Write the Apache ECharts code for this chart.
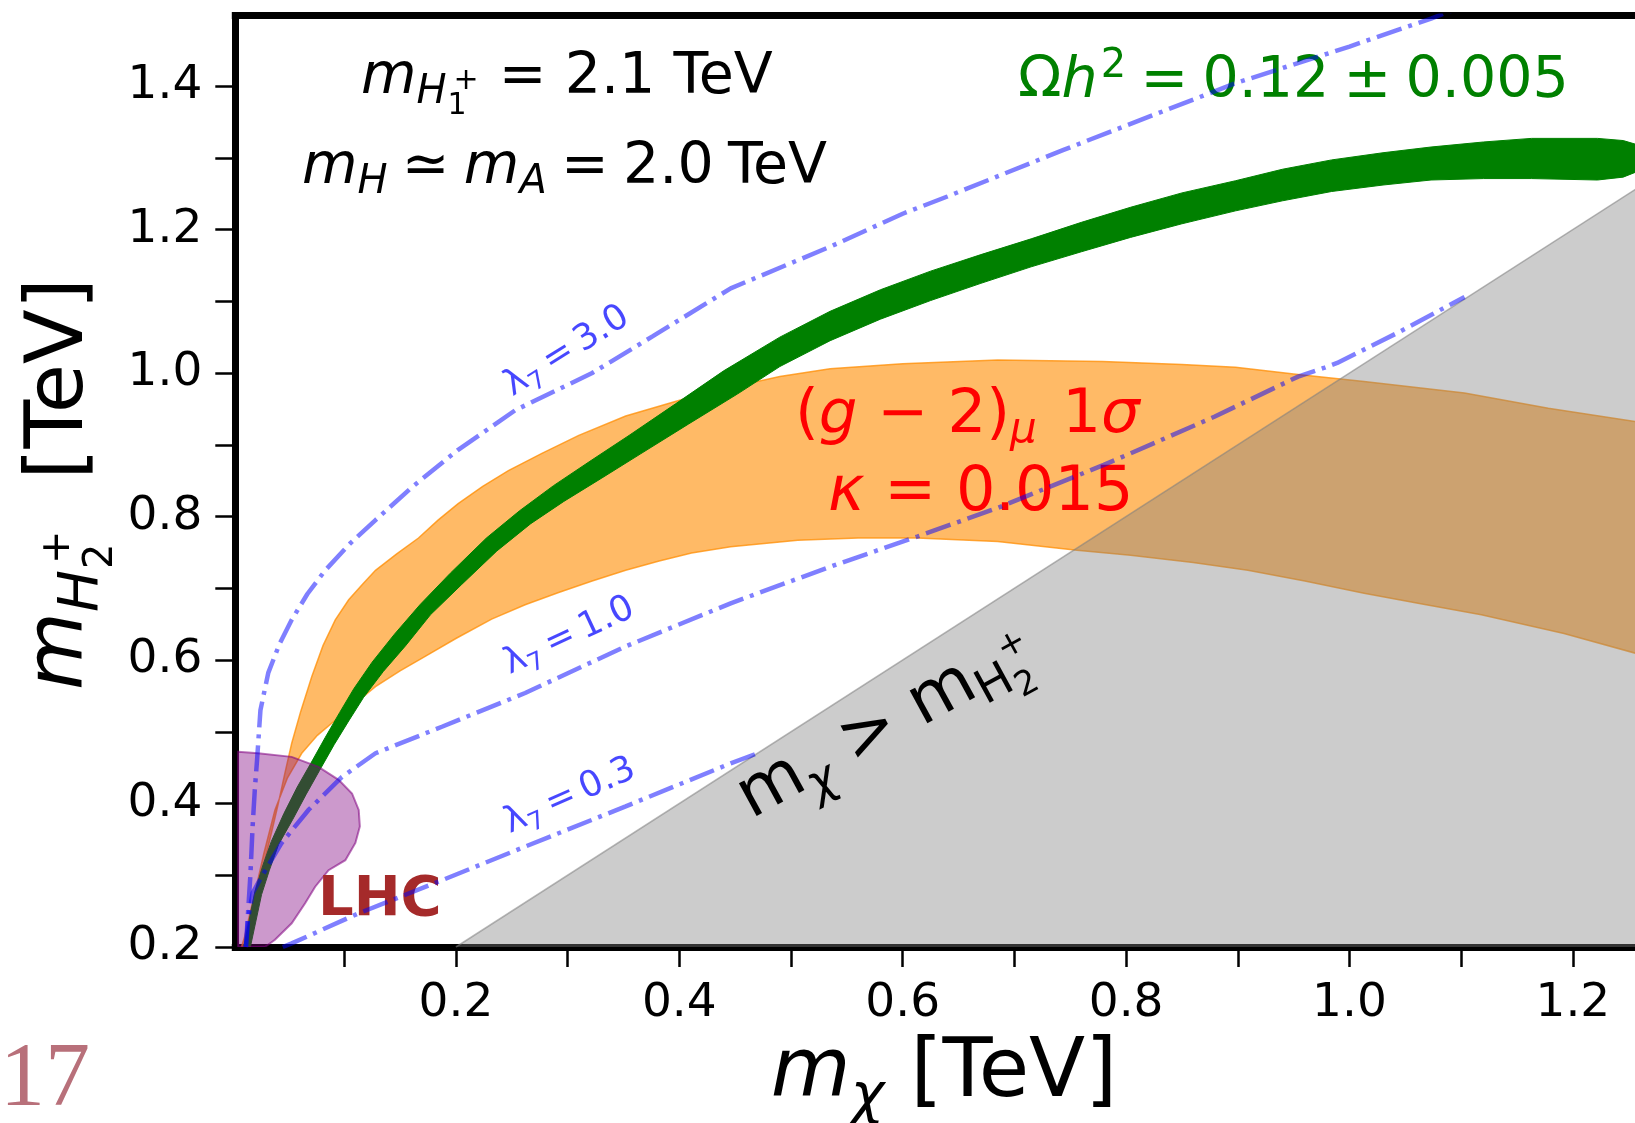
<!DOCTYPE html>
<html>
<head>
<meta charset="utf-8">
<script src="https://cdn.jsdelivr.net/npm/echarts@6/dist/echarts.min.js"></script>
<style>
  html, body { margin: 0; padding: 0; background: #ffffff; }
  #chart { width: 1635px; height: 1123px; }
</style>
</head>
<body>
<div id="chart"></div>
<script>
// ---------------- axis ticks ----------------
const xTicks = [0.1, 0.2, 0.3, 0.4, 0.5, 0.6, 0.7, 0.8, 0.9, 1.0, 1.1, 1.2];
const xTickLabels = [0.2, 0.4, 0.6, 0.8, 1.0, 1.2];
const yTicks = [0.2, 0.3, 0.4, 0.5, 0.6, 0.7, 0.8, 0.9, 1.0, 1.1, 1.2, 1.3, 1.4];
const yTickLabels = [0.2, 0.4, 0.6, 0.8, 1.0, 1.2, 1.4];

// ---------------- regions (m_chi, m_H2+) in TeV ----------------
// (g-2)_mu 1 sigma band, kappa = 0.015
const g2Upper = [[0.008,0.200],[0.011,0.215],[0.016,0.250],[0.022,0.285],[0.029,0.321],[0.035,0.360],[0.041,0.400],[0.047,0.443],[0.053,0.484],[0.061,0.528],[0.071,0.577],[0.081,0.620],[0.092,0.656],[0.104,0.684],[0.116,0.705],[0.128,0.725],[0.147,0.748],[0.1665,0.770],[0.184,0.795],[0.202,0.818],[0.224,0.842],[0.247,0.864],[0.277,0.888],[0.310,0.913],[0.352,0.940],[0.4025,0.963],[0.446,0.980],[0.490,0.995],[0.535,1.006],[0.600,1.013],[0.685,1.018],[0.779,1.016],[0.850,1.012],[0.898,1.008],[0.954,0.998],[1.013,0.988],[1.103,0.972],[1.178,0.951],[1.257,0.932],[1.300,0.921]];
const g2Lower = [[0.012,0.200],[0.016,0.240],[0.020,0.275],[0.028,0.330],[0.038,0.391],[0.049,0.435],[0.062,0.470],[0.076,0.495],[0.092,0.516],[0.110,0.540],[0.128,0.563],[0.150,0.585],[0.1725,0.605],[0.200,0.630],[0.232,0.657],[0.262,0.677],[0.292,0.694],[0.322,0.710],[0.352,0.725],[0.382,0.738],[0.411,0.749],[0.446,0.758],[0.506,0.767],[0.560,0.770],[0.613,0.770],[0.685,0.765],[0.756,0.753],[0.804,0.746],[0.860,0.736],[0.909,0.725],[0.960,0.710],[1.013,0.693],[1.065,0.678],[1.118,0.663],[1.192,0.637],[1.257,0.609],[1.300,0.592]];

// relic density band, Omega h^2 = 0.12 +- 0.005
const relicUpper = [[0.010,0.200],[0.020,0.277],[0.027,0.313],[0.0347,0.347],[0.046,0.386],[0.058,0.423],[0.0701,0.456],[0.083,0.492],[0.096,0.527],[0.1086,0.560],[0.125,0.597],[0.145,0.636],[0.1678,0.677],[0.195,0.721],[0.2273,0.770],[0.257,0.808],[0.2874,0.843],[0.320,0.877],[0.355,0.913],[0.3966,0.957],[0.4397,1.003],[0.490,1.050],[0.535,1.086],[0.580,1.116],[0.625,1.142],[0.670,1.165],[0.715,1.187],[0.760,1.210],[0.804,1.231],[0.850,1.251],[0.898,1.268],[0.940,1.284],[0.984,1.297],[1.030,1.307],[1.073,1.315],[1.120,1.322],[1.163,1.327],[1.222,1.327],[1.245,1.324],[1.258,1.318],[1.266,1.305]];
const relicLower = [[0.016,0.200],[0.026,0.273],[0.033,0.307],[0.0413,0.343],[0.054,0.378],[0.066,0.413],[0.0779,0.446],[0.091,0.482],[0.104,0.515],[0.1174,0.548],[0.135,0.584],[0.155,0.620],[0.1772,0.663],[0.205,0.705],[0.2367,0.752],[0.267,0.790],[0.2966,0.821],[0.330,0.853],[0.365,0.887],[0.4084,0.929],[0.4523,0.971],[0.490,1.009],[0.535,1.045],[0.580,1.075],[0.625,1.101],[0.670,1.125],[0.715,1.148],[0.760,1.169],[0.804,1.189],[0.850,1.208],[0.898,1.226],[0.940,1.240],[0.984,1.253],[1.030,1.262],[1.073,1.269],[1.120,1.271],[1.163,1.271],[1.222,1.269],[1.245,1.273],[1.258,1.281],[1.266,1.295]];

// LHC exclusion
const lhcRegion = [[0.005,0.472],[0.023,0.470],[0.053,0.465],[0.077,0.451],[0.095,0.433],[0.107,0.414],[0.113,0.391],[0.114,0.368],[0.110,0.345],[0.101,0.321],[0.086,0.307],[0.074,0.284],[0.065,0.261],[0.053,0.233],[0.038,0.210],[0.029,0.200],[0.005,0.200]];

// m_chi > m_H2+ (forbidden)
const forbidden = [[0.2,0.2],[1.3,1.3],[1.3,0.2]];
const diagonal = [[0.2,0.2],[1.3,1.3]];

// lambda_7 contours
const lambda30 = [[0.012,0.200],[0.014,0.250],[0.016,0.300],[0.018,0.368],[0.020,0.420],[0.022,0.461],[0.025,0.530],[0.032,0.582],[0.042,0.622],[0.053,0.656],[0.067,0.692],[0.083,0.725],[0.105,0.762],[0.128,0.795],[0.160,0.840],[0.202,0.893],[0.253,0.948],[0.322,1.000],[0.376,1.051],[0.446,1.118],[0.535,1.176],[0.600,1.222],[0.640,1.246],[0.744,1.311],[0.898,1.404],[1.000,1.455],[1.073,1.494],[1.100,1.510]];
const lambda10 = [[0.012,0.200],[0.014,0.240],[0.018,0.275],[0.026,0.298],[0.044,0.345],[0.068,0.391],[0.098,0.437],[0.128,0.470],[0.1875,0.507],[0.262,0.554],[0.352,0.619],[0.446,0.679],[0.535,0.730],[0.613,0.772],[0.685,0.812],[0.780,0.872],[0.804,0.888],[0.879,0.939],[0.954,0.995],[0.977,1.007],[0.989,1.014],[1.043,1.056],[1.103,1.106]];
const lambda03 = [[0.045,0.200],[0.053,0.205],[0.113,0.247],[0.1875,0.293],[0.262,0.340],[0.352,0.396],[0.446,0.456],[0.470,0.470]];

// ---------------- text helpers ----------------
const FAMILY = '"DejaVu Sans", sans-serif';
const SP = '\u2005'; // narrower space around relations
const measureCtx = document.createElement('canvas').getContext('2d');
function fontOf(p, family) {
  return (p.i ? 'italic ' : '') + (p.b ? 'bold ' : '') + p.s + 'px ' + (family || FAMILY);
}
function textWidth(p, family) {
  measureCtx.font = fontOf(p, family);
  return measureCtx.measureText(p.t).width;
}
// offset (in em) between the canvas "middle" line and the alphabetic baseline
let MID = 0.346;
(function () {
  measureCtx.font = '100px ' + FAMILY;
  measureCtx.textBaseline = 'alphabetic';
  const m = measureCtx.measureText('Hg');
  if (m.fontBoundingBoxAscent && m.fontBoundingBoxDescent) {
    MID = (m.fontBoundingBoxAscent - m.fontBoundingBoxDescent) / 200;
  }
})();

// Lays out pieces of a formula along one baseline (group origin = baseline).
// piece: t text, s size, i italic, dy baseline shift (down +), gap extra space,
// keep: the next piece is stacked at the same x (sub + superscript).
function formula(pieces, opt) {
  const base = opt.size;
  let x = 0, held = null;
  const kids = [];
  pieces.forEach(function (p) {
    const q = { t: p.t, s: p.s || base, i: p.i, b: opt.bold || p.b };
    const x0 = (held ? held.x : x) + (p.gap || 0);
    const w = textWidth(q, opt.family);
    kids.push({
      type: 'text', x: x0, y: (p.dy || 0) - MID * q.s, silent: true, z: 5,
      style: {
        text: p.t, font: fontOf(q, opt.family), fill: opt.color,
        align: 'left', verticalAlign: 'middle', textAlign: 'left', textVerticalAlign: 'middle'
      }
    });
    if (p.keep) { held = { x: x, end: x0 + w }; }
    else if (held) { x = Math.max(held.end, x0 + w); held = null; }
    else { x = x0 + w; }
  });
  const shift = opt.align === 'center' ? -x / 2 : (opt.align === 'right' ? -x : 0);
  kids.forEach(function (k) { k.x += shift; });
  return { type: 'group', x: opt.x, y: opt.y, rotation: (opt.rot || 0) * Math.PI / 180, children: kids, z: 5 };
}

// ---------------- series builders ----------------
function region(name, verts, style, z) {
  return {
    type: 'custom', name: name, z: z, silent: true, clip: true,
    data: verts, encode: { x: 0, y: 1 },
    renderItem: function (params, api) {
      if (params.dataIndex !== 0) return null;
      return { type: 'polygon', shape: { points: verts.map(function (v) { return api.coord(v); }) }, style: style };
    }
  };
}
function contour(name, pts) {
  return {
    type: 'line', name: name, data: pts, z: 6, silent: true, clip: true,
    showSymbol: false, symbol: 'none', smooth: false,
    lineStyle: { color: 'rgba(0,0,255,0.5)', width: 4.5, type: [26, 7, 4, 7], cap: 'butt' }
  };
}

const chart = echarts.init(document.getElementById('chart'), null, { renderer: 'canvas' });

const X0 = 0.0025, X1 = 1.2556, Y0 = 0.2, Y1 = 1.498;
const tickFmt = function (v) { return v.toFixed(1); };
const blue = 'rgba(0,0,255,0.72)';
const spine = { show: true, onZero: false, lineStyle: { color: '#000', width: 7, cap: 'square' } };

const graphics = [
  formula([{ t: 'm', i: 1 }, { t: 'H', s: 40, i: 1, dy: 8 }, { t: '1', s: 30, dy: 19, gap: 1, keep: 1 }, { t: '+', s: 30, dy: -6, gap: 7 }, { t: ' = 2.1 TeV', gap: 2 }],
          { x: 361, y: 98, size: 57, color: '#000' }),
  formula([{ t: 'm', i: 1 }, { t: 'H', s: 40, i: 1, dy: 8 }, { t: SP + '\u2243' + SP }, { t: 'm', i: 1 }, { t: 'A', s: 40, i: 1, dy: 8 }, { t: SP + '=' + SP + '2.0' + SP + 'TeV' }],
          { x: 302, y: 188, size: 57, color: '#000' }),
  formula([{ t: '\u03A9' }, { t: 'h', i: 1 }, { t: '2', s: 40, dy: -22, gap: 3 }, { t: SP + '=' + SP + '0.12' + SP + '\u00B1' + SP + '0.005' }],
          { x: 1018, y: 102, size: 57, color: '#008000' }),
  formula([{ t: '(' }, { t: 'g', i: 1 }, { t: ' \u2212 2)' }, { t: '\u03BC', s: 42, i: 1, dy: 9 }, { t: ' 1', gap: 6 }, { t: '\u03C3', i: 1 }],
          { x: 795, y: 437, size: 61, color: '#ff0000' }),
  formula([{ t: '\u03BA', i: 1 }, { t: ' = 0.015' }],
          { x: 828, y: 515, size: 62, color: '#ff0000' }),
  formula([{ t: 'm' }, { t: '\u03C7', s: 47, i: 1, dy: 13 }, { t: ' > ' }, { t: 'm' }, { t: 'H', s: 47, dy: 10 }, { t: '2', s: 34, dy: 20, keep: 1 }, { t: '+', s: 34, dy: -22, gap: 2 }],
          { x: 754, y: 824, size: 68, color: '#000', rot: 28.5 }),
  formula([{ t: 'LHC' }], { x: 318, y: 920, size: 56, bold: true, color: '#a52a2a' }),
  formula([{ t: '\u03BB' }, { t: '7', s: 25, dy: 7 }, { t: '\u2009=\u20093.0', gap: 1 }], { x: 514, y: 399, size: 36, color: blue, rot: 32 }),
  formula([{ t: '\u03BB' }, { t: '7', s: 25, dy: 7 }, { t: '\u2009=\u20091.0', gap: 1 }], { x: 511, y: 677, size: 36, color: blue, rot: 25 }),
  formula([{ t: '\u03BB' }, { t: '7', s: 25, dy: 7 }, { t: '\u2009=\u20090.3', gap: 1 }], { x: 511, y: 836, size: 36, color: blue, rot: 24 }),
  // axis titles
  formula([{ t: 'm', i: 1 }, { t: '\u03C7', s: 57, i: 1, dy: 15 }, { t: ' [TeV]' }],
          { x: 944, y: 1103, size: 82, color: '#000', align: 'center' }),
  formula([{ t: 'm', i: 1 }, { t: 'H', s: 56, i: 1, dy: 13 }, { t: '2', s: 40, dy: 26, gap: 1, keep: 1 }, { t: '+', s: 40, dy: -17, gap: 6 }, { t: '  [TeV]' }],
          { x: 89, y: 484, size: 80, color: '#000', align: 'center', rot: 90 }),
  // page number
  formula([{ t: '17' }], { x: 0, y: 1112, size: 90, color: '#b8707a', family: '"Liberation Serif", serif' })
];

chart.setOption({
  animation: false,
  backgroundColor: '#ffffff',
  grid: { left: 235.3, top: 15.7, right: 0, height: 931.3, show: false },
  xAxis: [{
    type: 'value', min: X0, max: X1, position: 'bottom',
    axisLine: spine, splitLine: { show: false },
    axisTick: { show: true, customValues: xTicks, length: 20, lineStyle: { color: '#000', width: 2.5 } },
    axisLabel: { customValues: xTickLabels, formatter: tickFmt, fontSize: 47, fontFamily: FAMILY, color: '#000', margin: 33 }
  }, {
    type: 'value', min: X0, max: X1, position: 'top',
    axisLine: spine, splitLine: { show: false }, axisTick: { show: false }, axisLabel: { show: false }
  }],
  yAxis: {
    type: 'value', min: Y0, max: Y1,
    axisLine: spine, splitLine: { show: false },
    axisTick: { show: true, customValues: yTicks, length: 20, lineStyle: { color: '#000', width: 2.5 } },
    axisLabel: { customValues: yTickLabels, formatter: tickFmt, fontSize: 47, fontFamily: FAMILY, color: '#000', margin: 33 }
  },
  series: [
    region('(g-2)', g2Upper.concat(g2Lower.slice().reverse()),
           { fill: 'rgba(255,140,0,0.6)', stroke: 'rgba(255,140,0,0.75)', lineWidth: 1.5 }, 1),
    region('relic', relicUpper.concat(relicLower.slice().reverse()),
           { fill: '#008000', stroke: '#008000', lineWidth: 1 }, 2),
    region('forbidden', forbidden, { fill: 'rgba(128,128,128,0.4)' }, 3),
    {
      type: 'line', name: 'edge', data: diagonal, z: 3, silent: true, showSymbol: false, symbol: 'none',
      lineStyle: { color: 'rgba(128,128,128,0.55)', width: 1.5 }
    },
    region('LHC', lhcRegion, { fill: 'rgba(128,0,128,0.4)', stroke: 'rgba(128,0,128,0.55)', lineWidth: 2 }, 4),
    contour('lambda7 = 3.0', lambda30),
    contour('lambda7 = 1.0', lambda10),
    contour('lambda7 = 0.3', lambda03)
  ],
  graphic: { elements: graphics }
});
</script>
</body>
</html>
